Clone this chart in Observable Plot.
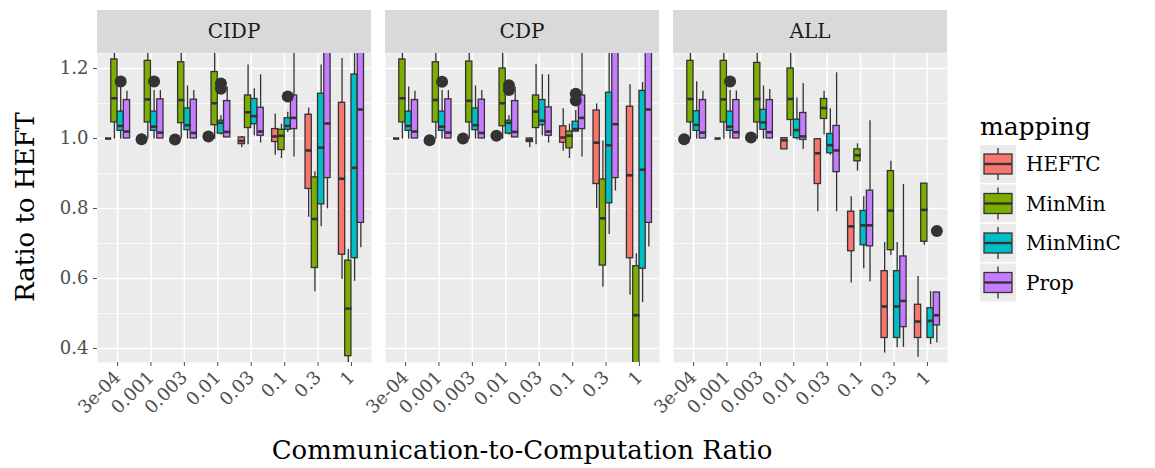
<!DOCTYPE html>
<html>
<head>
<meta charset="utf-8">
<script src="https://cdn.jsdelivr.net/npm/d3@7"></script>
<script src="https://cdn.jsdelivr.net/npm/@observablehq/plot@0.6"></script>
<style>body{margin:0;background:#fff}</style>
</head>
<body>
<div id="chart"></div>
<script>
const facets = ["CIDP", "CDP", "ALL"];
const ratios = ["3e-04", "0.001", "0.003", "0.01", "0.03", "0.1", "0.3", "1"];
const mappings = ["HEFTC", "MinMin", "MinMinC", "Prop"];
const colors = ["#F8766D", "#7CAE00", "#00BFC4", "#C77CFF"];

// [lower whisker, q1, median, q3, upper whisker], ratio by ratio, mapping by mapping
const cidp = [
  [1,1,1,1,1], [0.998,1.046,1.115,1.226,1.3], [0.998,1.022,1.036,1.077,1.147], [1,1,1.02,1.11,1.135],
  [1,1,1,1,1], [0.998,1.046,1.112,1.222,1.3], [0.998,1.022,1.034,1.077,1.137], [1,1,1.017,1.112,1.137],
  [1,1,1,1,1], [0.998,1.044,1.11,1.218,1.3], [0.998,1.024,1.038,1.086,1.15], [1,1,1.016,1.111,1.137],
  [1,1,1,1,1], [0.998,1.038,1.101,1.19,1.3], [1.01,1.014,1.045,1.051,1.065], [1.003,1.003,1.019,1.107,1.147],
  [0.974,0.984,0.993,1.003,1.006], [0.982,1.03,1.075,1.123,1.21], [1.008,1.041,1.064,1.113,1.142], [0.987,1.008,1.02,1.088,1.182],
  [0.952,0.99,1.006,1.027,1.07], [0.943,0.967,1.008,1.025,1.041], [1.017,1.025,1.036,1.058,1.075], [0.947,1.027,1.059,1.123,1.3],
  [0.775,0.856,0.966,1.068,1.087], [0.562,0.63,0.77,0.889,0.905], [0.748,0.812,0.974,1.128,1.21], [0.799,0.887,1.043,1.3,1.3],
  [0.597,0.668,0.885,1.102,1.229], [0.3,0.378,0.514,0.651,0.683], [0.592,0.658,0.916,1.183,1.3], [0.688,0.759,1.083,1.3,1.3]
];
const cdp = [
  [1,1,1,1,1], [0.998,1.046,1.115,1.226,1.3], [0.998,1.022,1.036,1.077,1.147], [1,1,1.02,1.11,1.135],
  [1,1,1,1,1], [0.998,1.046,1.11,1.218,1.3], [0.998,1.022,1.034,1.077,1.137], [1,1,1.017,1.112,1.137],
  [1,1,1,1,1], [0.998,1.046,1.108,1.22,1.3], [0.998,1.024,1.038,1.086,1.15], [1,1,1.016,1.111,1.137],
  [1,1,1,1,1], [0.998,1.035,1.101,1.2,1.3], [1.01,1.014,1.045,1.051,1.065], [1.003,1.003,1.019,1.107,1.147],
  [0.974,0.99,0.995,1.0,1.003], [0.982,1.03,1.077,1.123,1.212], [1.008,1.038,1.051,1.11,1.182], [0.987,1.008,1.02,1.089,1.182],
  [0.964,0.988,1.003,1.035,1.085], [0.943,0.972,1.008,1.02,1.041], [1.017,1.02,1.027,1.048,1.08], [0.947,1.027,1.059,1.123,1.3],
  [0.8,0.87,0.988,1.08,1.099], [0.575,0.637,0.772,0.883,0.993], [0.726,0.815,0.981,1.131,1.3], [0.85,0.887,1.041,1.3,1.3],
  [0.552,0.658,0.895,1.091,1.154], [0.3,0.3,0.495,0.635,0.671], [0.531,0.628,0.911,1.136,1.16], [0.69,0.759,1.083,1.3,1.3]
];
const all = [
  [1,1,1,1,1], [0.998,1.046,1.113,1.222,1.3], [0.998,1.022,1.039,1.078,1.162], [1,1,1.017,1.11,1.135],
  [1,1,1,1,1], [0.998,1.046,1.112,1.222,1.3], [0.998,1.022,1.034,1.077,1.137], [1,1,1.018,1.11,1.136],
  [1,1,1,1,1], [0.998,1.046,1.113,1.216,1.3], [0.998,1.025,1.046,1.082,1.15], [1,1,1.018,1.11,1.14],
  [0.969,0.969,0.995,1.001,1.003], [1.006,1.053,1.113,1.2,1.3], [0.996,1.001,1.024,1.054,1.116], [0.969,0.996,1.006,1.073,1.157],
  [0.791,0.87,0.958,0.998,1.0], [1.01,1.056,1.087,1.113,1.135], [0.952,0.958,0.981,1.013,1.085], [0.791,0.904,0.966,1.036,1.188],
  [0.587,0.678,0.749,0.791,0.834], [0.907,0.935,0.952,0.969,0.985], [0.628,0.695,0.752,0.793,0.834], [0.591,0.692,0.752,0.851,1.051],
  [0.387,0.43,0.52,0.621,0.703], [0.666,0.681,0.794,0.907,0.935], [0.402,0.43,0.52,0.621,0.703], [0.403,0.461,0.536,0.663,0.869],
  [0.375,0.43,0.477,0.525,0.606], [0.695,0.705,0.796,0.871,0.871], [0.411,0.43,0.479,0.515,0.563], [0.416,0.466,0.495,0.56,0.56]
];
// outliers: [facet, ratio index, mapping index, value]
const outliers = [
  ["CIDP",0,2,1.163], ["CIDP",1,0,0.998], ["CIDP",1,2,1.163], ["CIDP",2,0,0.997], ["CIDP",3,0,1.006],
  ["CIDP",3,2,1.157], ["CIDP",3,2,1.142], ["CIDP",5,2,1.12],
  ["CDP",1,0,0.995], ["CDP",1,2,1.162], ["CDP",2,0,1.0], ["CDP",3,0,1.008],
  ["CDP",3,2,1.152], ["CDP",3,2,1.139], ["CDP",5,2,1.128], ["CDP",5,2,1.109],
  ["ALL",0,0,0.998], ["ALL",1,2,1.163], ["ALL",2,0,1.003], ["ALL",7,3,0.736]
];

const dodge = 0.75 / mappings.length;
const pos = (r, m) => r + 1 + (m - 1.5) * dodge;
const boxes = [];
[cidp, cdp, all].forEach((rows, f) => rows.forEach((s, k) => {
  const r = Math.floor(k / 4), m = k % 4;
  boxes.push({facet: facets[f], mapping: mappings[m], x: pos(r, m),
    lo: s[0], q1: s[1], med: s[2], q3: s[3], hi: s[4]});
}));
const pts = outliers.map(([f, r, m, v]) => ({facet: f, x: pos(r, m), v}));

const font = "'DejaVu Serif', serif";
const chart = Plot.plot({
  width: 1155, height: 468,
  marginLeft: 97, marginRight: 208, marginTop: 53, marginBottom: 106,
  style: {fontFamily: font, fontSize: "18px", color: "#4d4d4d", background: "#fff"},
  fx: {domain: facets, padding: 0.05, label: null, axis: null},
  x: {domain: [0.4, 8.6]},
  y: {domain: [0.36, 1.243]},
  color: {domain: mappings, range: colors},
  marks: [
    Plot.frame({fill: "#ebebeb", stroke: null}),
    Plot.gridY([0.5, 0.7, 0.9, 1.1], {stroke: "#fff", strokeOpacity: 1, strokeWidth: 0.7}),
    Plot.gridY([0.4, 0.6, 0.8, 1.0, 1.2], {stroke: "#fff", strokeOpacity: 1, strokeWidth: 1.5}),
    Plot.gridX(d3.range(1, 9), {stroke: "#fff", strokeOpacity: 1, strokeWidth: 1.5}),
    Plot.axisY([0.4, 0.6, 0.8, 1.0, 1.2], {tickFormat: ".1f", label: null, tickSize: 4, fontSize: 18, fill: "#4d4d4d"}),
    Plot.axisX(d3.range(1, 9), {tickFormat: i => ratios[i - 1], tickRotate: -45, label: null, tickSize: 4, fontSize: 18, fill: "#4d4d4d"}),
    Plot.ruleX(boxes, {fx: "facet", x: "x", y1: "lo", y2: "hi", stroke: "#333", strokeWidth: 1.3, clip: "frame"}),
    Plot.rect(boxes, {fx: "facet", x1: d => d.x - dodge / 2, x2: d => d.x + dodge / 2, y1: "q1", y2: "q3",
      fill: "mapping", stroke: "#333", strokeWidth: 1.3, clip: "frame"}),
    Plot.link(boxes, {fx: "facet", x1: d => d.x - dodge / 2, x2: d => d.x + dodge / 2, y1: "med", y2: "med",
      stroke: "#333", strokeWidth: 2.6, clip: "frame"}),
    Plot.dot(pts, {fx: "facet", x: "x", y: "v", r: 6, fill: "#333", clip: "frame"})
  ]
});

// strips
const svg = d3.select(chart);
const fx = chart.scale("fx");
const strips = svg.append("g");
facets.forEach(f => {
  strips.append("rect").attr("x", fx.apply(f)).attr("y", 10)
    .attr("width", fx.bandwidth).attr("height", 43).attr("fill", "#d9d9d9");
  strips.append("text").attr("x", fx.apply(f) + fx.bandwidth / 2).attr("y", 38)
    .attr("text-anchor", "middle").attr("font-size", 20).attr("fill", "#1a1a1a").text(f);
});

// axis titles
svg.append("text").attr("transform", "translate(34,207) rotate(-90)").attr("text-anchor", "middle")
  .attr("font-size", 26).attr("fill", "#000").text("Ratio to HEFT");
svg.append("text").attr("x", 522).attr("y", 459).attr("text-anchor", "middle")
  .attr("font-size", 26).attr("fill", "#000").text("Communication-to-Computation Ratio");

// legend
const lg = svg.append("g").attr("transform", "translate(980,0)").attr("text-anchor", "start");
lg.append("text").attr("x", 0).attr("y", 135).attr("font-size", 25).attr("fill", "#000").text("mapping");
mappings.forEach((m, i) => {
  const y = 145 + i * 39.5;
  lg.append("rect").attr("x", 0).attr("y", y).attr("width", 36).attr("height", 38).attr("fill", "#ebebeb");
  lg.append("line").attr("x1", 18).attr("x2", 18).attr("y1", y + 3).attr("y2", y + 35).attr("stroke", "#333").attr("stroke-width", 1.3);
  lg.append("rect").attr("x", 4).attr("y", y + 9).attr("width", 28).attr("height", 20)
    .attr("fill", colors[i]).attr("stroke", "#333").attr("stroke-width", 1.3);
  lg.append("line").attr("x1", 4).attr("x2", 32).attr("y1", y + 19).attr("y2", y + 19).attr("stroke", "#333").attr("stroke-width", 2.4);
  lg.append("text").attr("x", 46).attr("y", y + 26).attr("font-size", 20).attr("fill", "#000").text(m);
});

d3.select("#chart").append(() => chart);
</script>
</body>
</html>
